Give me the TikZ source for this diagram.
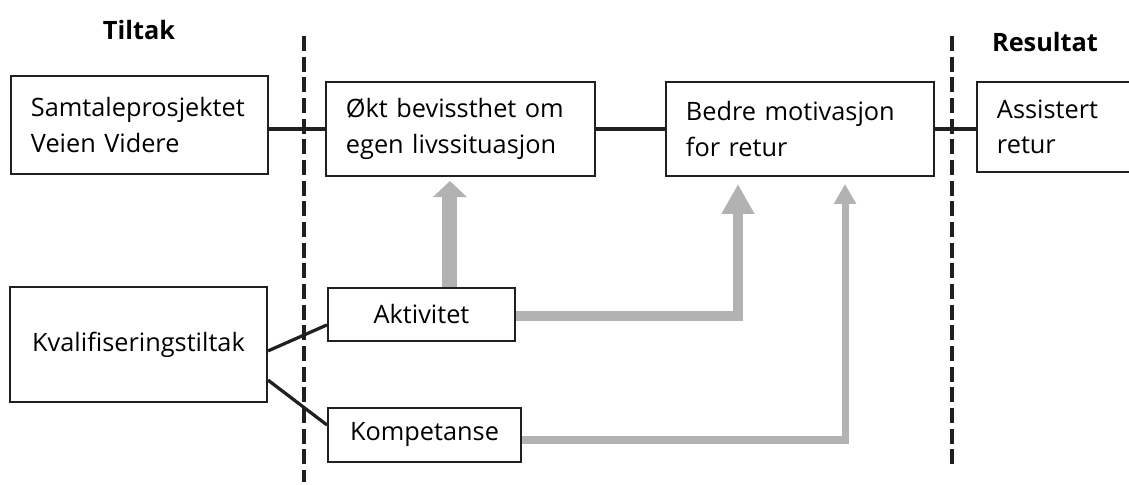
\documentclass[tikz,border=0pt]{standalone}
\usepackage{fontspec}
\setmainfont{Open Sans}
\usetikzlibrary{arrows.meta}

\definecolor{pilgraa}{RGB}{178,178,178}
\definecolor{strek}{RGB}{35,31,32}

\tikzset{
    boks/.style={draw=strek, line width=1.4pt, inner xsep=0.5cm, inner ysep=0pt,
        font=\fontsize{18}{25}\selectfont},
    overskrift/.style={font=\fontsize{18}{20}\selectfont\bfseries},
    linje/.style={draw=strek, line width=2.3pt},
    skille/.style={draw=strek, line width=3.4pt, dash pattern=on 10.7pt off 4pt},
    pil/.style={draw=pilgraa}
}

\begin{document}
\begin{tikzpicture}[x=0.025cm, y=-0.025cm]
                \useasboundingbox (0,0) rectangle (1129,485);
                \draw[skille] (304,36) -- (304,482);
                \draw[skille] (952,36) -- (952,469);
                \node[overskrift] (tiltak) at (139,30) {Tiltak};
                \node[overskrift] (resultat) at (1045,42) {Resultat};
                \node[boks, align=left, text width=5.425cm, minimum height=2.45cm] (samt) at (139.5,125) {Samtaleprosjektet\\Veien Videre};
                \node[boks, align=left, text width=5.725cm, minimum height=2.35cm] (okt) at (460.5,129) {Økt bevissthet om\\egen livssituasjon};
                \node[boks, align=left, text width=5.7cm, minimum height=2.35cm] (bedre) at (800,129) {Bedre motivasjon\\for retur};
                \node[boks, align=left, text width=4cm, minimum height=2.25cm] (assist) at (1077,127) {Assistert\\retur};
                \node[boks, align=center, text width=5.425cm, minimum height=2.875cm] (kval) at (138.5,344.5) {Kvalifiseringstiltak};
                \node[boks, align=center, text width=3.675cm, minimum height=1.325cm] (akt) at (421.5,314.5) {Aktivitet};
                \node[boks, align=center, text width=3.825cm, minimum height=1.35cm] (komp) at (424.5,435) {Kompetanse};
                \draw[linje] (samt.east |- okt.west) -- (okt.west);
                \draw[linje] (okt.east) -- (bedre.west);
                \draw[linje] (bedre.east) -- (bedre.east -| assist.west);
                \draw[linje] ([yshift=-0.16cm]kval.east) -- ([yshift=-0.26cm]akt.west);
                \draw[linje] ([yshift=-0.89cm]kval.east) -- ([yshift=0.25cm]komp.west);
                \coordinate (a1) at ([xshift=0.71cm]akt.north);
                \coordinate (t1) at ([yshift=-0.1cm]okt.south);
                \coordinate (a2) at ([yshift=-0.04cm]akt.east);
                \coordinate (t2) at ([xshift=-1.55cm,yshift=-0.175cm]bedre.south);
                \coordinate (k1) at ([yshift=-0.125cm]komp.east);
                \coordinate (t3) at ([xshift=1.125cm,yshift=-0.175cm]bedre.south);
                \draw[pil, line width=10.7pt, -{Triangle[width=23.5pt,length=11.4pt]}] (a1) -- (a1 |- t1);
                \draw[pil, line width=6.8pt, -{Triangle[width=22pt,length=21.3pt]}] (a2) -| (t2);
                \draw[pil, line width=5pt, -{Triangle[width=15pt,length=14.2pt]}] (k1) -| (t3);
            \end{tikzpicture}
\end{document}
